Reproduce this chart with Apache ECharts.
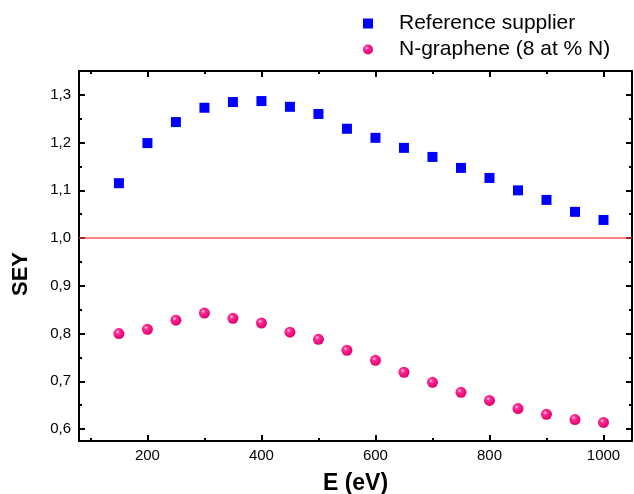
<!DOCTYPE html>
<html>
<head>
<meta charset="utf-8">
<script src="https://cdn.jsdelivr.net/npm/echarts@6/dist/echarts.min.js"></script>
<style>
	html, body { margin: 0; padding: 0; background: #fff; }
	#sey { width: 634px; height: 494px; }
</style>
</head>
<body>
<div id="sey"></div>
<script>
// beam energies (eV)
var energies = [150, 200, 250, 300, 350, 400, 450, 500, 550, 600, 650, 700, 750, 800, 850, 900, 950, 1000];
// SEY of reference supplier
var refSupplier = [1.115, 1.199, 1.243, 1.273, 1.285, 1.287, 1.275, 1.260, 1.229, 1.210, 1.189, 1.170, 1.147, 1.126, 1.100, 1.080, 1.055, 1.038];
// SEY of N-graphene (8 at % N)
var nGraphene = [0.800, 0.809, 0.828, 0.843, 0.832, 0.822, 0.803, 0.788, 0.765, 0.744, 0.719, 0.698, 0.677, 0.660, 0.643, 0.631, 0.620, 0.614];
var refLevel = 1.0;

var xMajorTicks = [200, 400, 600, 800, 1000];
var xMinorTicks = [100, 300, 500, 700, 900];
var yMajorTicks = [0.6, 0.7, 0.8, 0.9, 1.0, 1.1, 1.2, 1.3];
var yMinorTicks = [0.65, 0.75, 0.85, 0.95, 1.05, 1.15, 1.25];

var chart = echarts.init(document.getElementById('sey'));
var font = 'Arial, "Liberation Sans", sans-serif';

var xMin = 80, xMax = 1050, yMin = 0.575, yMax = 1.35;

function xAxisOf(pos, ticks, len, labels, line) {
	return {
		type: 'value', position: pos, min: xMin, max: xMax,
		axisLine: { show: line, onZero: false, lineStyle: { color: '#000', width: 2 } },
		axisTick: { show: true, inside: true, length: len, customValues: ticks, lineStyle: { color: '#000', width: 2 } },
		axisLabel: {
			show: labels, customValues: ticks, margin: 7, color: '#000', fontSize: 15, fontFamily: font,
			formatter: function (v) { return String(v); }
		},
		splitLine: { show: false },
		minorSplitLine: { show: false }
	};
}
function yAxisOf(pos, ticks, len, labels, line) {
	return {
		type: 'value', position: pos, min: yMin, max: yMax,
		axisLine: { show: line, onZero: false, lineStyle: { color: '#000', width: 2 } },
		axisTick: { show: true, inside: true, length: len, customValues: ticks, lineStyle: { color: '#000', width: 2 } },
		axisLabel: {
			show: labels, customValues: ticks, margin: 8, color: '#000', fontSize: 15, fontFamily: font,
			formatter: function (v) { return v.toFixed(1).replace('.', ','); }
		},
		splitLine: { show: false },
		minorSplitLine: { show: false }
	};
}

var xAxes = [
	xAxisOf('bottom', xMajorTicks, 6, true, true),
	xAxisOf('bottom', xMinorTicks, 3, false, false),
	xAxisOf('top', xMajorTicks, 6, false, true),
	xAxisOf('top', xMinorTicks, 3, false, false)
];
xAxes[0].name = 'E (eV)';
xAxes[0].nameLocation = 'middle';
xAxes[0].nameGap = 31;
xAxes[0].nameTextStyle = { color: '#000', fontSize: 23, fontWeight: 'bold', fontFamily: font };

var yAxes = [
	yAxisOf('left', yMajorTicks, 6, true, true),
	yAxisOf('left', yMinorTicks, 3, false, false),
	yAxisOf('right', yMajorTicks, 6, false, true),
	yAxisOf('right', yMinorTicks, 3, false, false)
];
yAxes[0].name = 'SEY';
yAxes[0].nameLocation = 'middle';
yAxes[0].nameGap = 47;
yAxes[0].nameTextStyle = { color: '#000', fontSize: 22, fontWeight: 'bold', fontFamily: font, padding: [0, 36, 0, 0] };

var option = {
	animation: false,
	backgroundColor: '#fff',
	grid: { left: 79, right: 2, top: 71, bottom: 53, outerBoundsMode: 'none', containLabel: false },
	legend: {
		orient: 'vertical',
		left: 363, top: 13, padding: 0,
		itemWidth: 10, itemHeight: 10, itemGap: 5,
		textStyle: { color: '#000', fontSize: 21, fontFamily: font, padding: [0, 0, 0, 21], lineHeight: 21 },
		data: ['Reference supplier', 'N-graphene (8 at % N)']
	},
	xAxis: xAxes,
	yAxis: yAxes,
	series: [
		{
			name: 'SEY = 1',
			type: 'line',
			showSymbol: false,
			silent: true,
			lineStyle: { color: '#ff3b3b', type: 'solid', width: 1.5, opacity: 0.85 },
			itemStyle: { color: '#ff3b3b' },
			data: [[xMin, refLevel], [xMax, refLevel]]
		},
		{
			name: 'Reference supplier',
			type: 'scatter',
			symbol: 'rect',
			symbolSize: 10,
			itemStyle: { color: '#0000ff', opacity: 1 },
			data: energies.map(function (e, i) { return [e, refSupplier[i]]; })
		},
		{
			name: 'N-graphene (8 at % N)',
			type: 'scatter',
			symbol: 'circle',
			symbolSize: 11,
			itemStyle: {
				opacity: 1,
				color: {
					type: 'radial', x: 0.38, y: 0.35, r: 0.65,
					colorStops: [
						{ offset: 0, color: '#ffd6ea' },
						{ offset: 0.3, color: '#ff2a92' },
						{ offset: 1, color: '#e0006e' }
					]
				}
			},
			data: energies.map(function (e, i) { return [e, nGraphene[i]]; })
		}
	]
};

chart.setOption(option);
</script>
</body>
</html>
